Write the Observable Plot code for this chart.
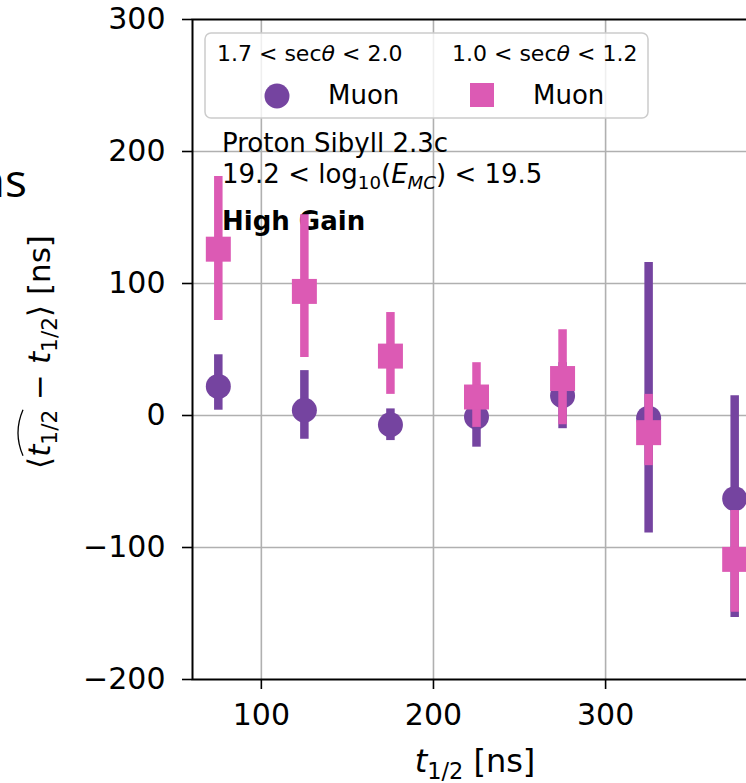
<!DOCTYPE html>
<html>
<head>
<meta charset="utf-8">
<script src="https://cdn.jsdelivr.net/npm/d3@7"></script>
<script src="https://cdn.jsdelivr.net/npm/@observablehq/plot@0.6"></script>
<style>
  html, body { margin: 0; padding: 0; background: white; overflow: hidden; }
  #chart { position: relative; width: 746px; height: 783px; overflow: hidden; }
  #chart svg { max-width: none !important; }
</style>
</head>
<body>
<div id="chart"></div>
<script>
// ---- data ----
const tHalf = [75, 125, 175, 225, 275, 325, 375];            // t_{1/2} [ns] bin centres
// 1.7 < secθ < 2.0, Muon (purple circles)
const purpleMean = [22, 4, -7, -1, 15, -2, -63];
const purpleLo   = [4, -18, -19, -24, -10, -89, -153];
const purpleHi   = [46, 34, 5, 20, 40, 116, 15];
// 1.0 < secθ < 1.2, Muon (pink squares)
const pinkMean = [126, 94, 45, 14, 28, -13, -109];
const pinkLo   = [72, 44, 16, -9, -7, -38, -149];
const pinkHi   = [181, 152, 78, 40, 65, 16, -72];

const xTicks = [100, 200, 300];
const yTicks = [-200, -100, 0, 100, 200, 300];
const xDomain = [60, 390];
const yDomain = [-200, 300];

const legendTitles = ["1.7 < sec", "1.0 < sec"];
const legendRanges = [" < 2.0", " < 1.2"];
const legendLabel = "Muon";
const annotLine1 = "Proton Sibyll 2.3c";
const annotBold = "High Gain";

const PURPLE = "#7544a0";
const PINK = "#dc5ab4";

const purple = tHalf.map((t, i) => ({t, mean: purpleMean[i], lo: purpleLo[i], hi: purpleHi[i]}));
const pink = tHalf.map((t, i) => ({t, mean: pinkMean[i], lo: pinkLo[i], hi: pinkHi[i]}));

const gridStyle = {stroke: "#b0b0b0", strokeOpacity: 1, strokeWidth: 1.6};

const chart = Plot.plot({
  width: 770,
  height: 783,
  marginLeft: 192,
  marginRight: 10,
  marginTop: 19,
  marginBottom: 104,
  style: {fontFamily: "DejaVu Sans", fontSize: "30px", color: "black", background: "white", overflow: "visible", maxWidth: "none"},
  x: {domain: xDomain},
  y: {domain: yDomain},
  marks: [
    Plot.gridX(xTicks, gridStyle),
    Plot.gridY(yTicks.slice(1, -1), gridStyle),
    Plot.ruleX(purple, {x: "t", y1: "lo", y2: "hi", stroke: PURPLE, strokeWidth: 8.5}),
    Plot.dot(purple, {x: "t", y: "mean", r: 12.5, fill: PURPLE, symbol: "circle"}),
    Plot.ruleX(pink, {x: "t", y1: "lo", y2: "hi", stroke: PINK, strokeWidth: 8.5}),
    Plot.dot(pink, {x: "t", y: "mean", r: 14.1, fill: PINK, symbol: "square"}),
    Plot.frame({stroke: "black", strokeWidth: 2}),
    Plot.axisX({ticks: xTicks, tickSize: 10, tickPadding: 14, fontSize: 30, strokeWidth: 1.6, label: null}),
    Plot.axisY({ticks: yTicks, tickSize: 10, tickPadding: 17, fontSize: 30, strokeWidth: 1.6, label: null})
  ]
});
document.getElementById("chart").appendChild(chart);

const svg = d3.select(chart);

// helper: lay out a run of math-ish text parts, returns width and part extents
function mathText(g, parts, fs) {
  let x = 0;
  const ext = [];
  for (const p of parts) {
    const s = p.sub ? fs * 0.7 : fs;
    const t = g.append("text")
      .attr("x", x)
      .attr("y", p.sub ? fs * 0.23 : 0)
      .attr("text-anchor", "start")
      .attr("font-size", s)
      .attr("font-family", "DejaVu Sans")
      .attr("font-style", p.italic ? "italic" : "normal")
      .attr("font-weight", p.bold ? "bold" : "normal")
      .attr("fill", "black")
      .style("white-space", "pre")
      .text(p.t);
    const w = t.node().getComputedTextLength();
    ext.push({x0: x, x1: x + w});
    x += w;
  }
  return {width: x, ext};
}

// annotations inside the axes (under the data marks)
const annot = svg.insert("g", 'g[aria-label="rule"]');
{
  const g1 = annot.append("g").attr("transform", "translate(222,152)");
  mathText(g1, [{t: annotLine1}], 26);
  const g2 = annot.append("g").attr("transform", "translate(222,183)");
  mathText(g2, [
    {t: "19.2 < log"}, {t: "10", sub: true}, {t: "("}, {t: "E", italic: true},
    {t: "MC", sub: true, italic: true}, {t: ") < 19.5"}
  ], 26);
  const g3 = annot.append("g").attr("transform", "translate(222,230)");
  mathText(g3, [{t: annotBold, bold: true}], 26);
}

// x label
{
  const g = svg.append("g");
  const inner = g.append("g");
  const r = mathText(inner, [{t: "t", italic: true}, {t: "1/2", sub: true}, {t: " [ns]"}], 32);
  g.attr("transform", `translate(${475 - r.width / 2},772)`);
}

// y label (rotated)
{
  const g = svg.append("g").attr("transform", "translate(50,352) rotate(-90)");
  const inner = g.append("g");
  const r = mathText(inner, [
    {t: "\u27E8"}, {t: "t", italic: true}, {t: "1/2", sub: true}, {t: " \u2212 "},
    {t: "t", italic: true}, {t: "1/2", sub: true}, {t: "\u27E9 [ns]"}
  ], 31);
  inner.attr("transform", `translate(${-r.width / 2},0)`);
  const x0 = r.ext[1].x0 + 1, x1 = r.ext[2].x1;
  inner.append("path")
    .attr("d", `M${x0},-27 Q${(x0 + x1) / 2},-37 ${x1},-27`)
    .attr("fill", "none").attr("stroke", "black").attr("stroke-width", 1.3);
}

// stray fragment at the left edge
svg.append("text").attr("x", 27).attr("y", 197).attr("text-anchor", "end")
  .attr("font-family", "Open Sans").attr("font-size", 46).attr("fill", "black").text("ns");

// legend
{
  const lg = svg.append("g");
  lg.append("rect").attr("x", 205).attr("y", 33).attr("width", 443).attr("height", 85).attr("rx", 6)
    .attr("fill", "white").attr("fill-opacity", 0.8).attr("stroke", "#cccccc").attr("stroke-width", 1.5);
  const t1 = lg.append("g").attr("transform", "translate(217,61)");
  mathText(t1, [{t: legendTitles[0]}, {t: "\u03B8", italic: true}, {t: legendRanges[0]}], 22);
  const t2 = lg.append("g").attr("transform", "translate(452,61)");
  mathText(t2, [{t: legendTitles[1]}, {t: "\u03B8", italic: true}, {t: legendRanges[1]}], 22);
  lg.append("circle").attr("cx", 277).attr("cy", 96).attr("r", 12.5).attr("fill", PURPLE);
  lg.append("rect").attr("x", 470).attr("y", 83).attr("width", 24).attr("height", 24).attr("fill", PINK);
  const m1 = lg.append("g").attr("transform", "translate(328,104)");
  mathText(m1, [{t: legendLabel}], 26);
  const m2 = lg.append("g").attr("transform", "translate(533,104)");
  mathText(m2, [{t: legendLabel}], 26);
}
</script>
</body>
</html>
